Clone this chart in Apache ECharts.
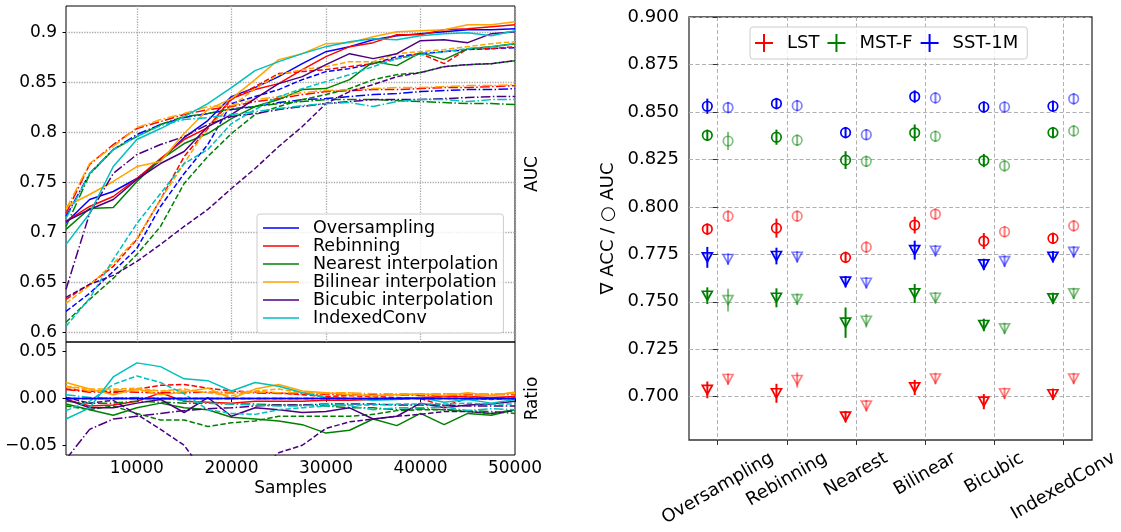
<!DOCTYPE html>
<html>
<head>
<meta charset="utf-8">
<script src="https://cdn.jsdelivr.net/npm/echarts@6/dist/echarts.min.js"></script>
<style>
html, body { margin: 0; padding: 0; background: #fff; }
#main { width: 1121px; height: 532px; }
</style>
</head>
<body>
<div id="main"></div>
<script>
// ---- left chart: AUC vs samples (solid / dashed / dash-dot per method) ----
const samples = [2500, 5000, 7500, 10000, 12500, 15000, 17500, 20000, 22500, 25000,
  27500, 30000, 32500, 35000, 37500, 40000, 42500, 45000, 47500, 50000];

const aucOverSolid = [0.710, 0.733, 0.741, 0.754, 0.772, 0.795, 0.812, 0.836, 0.845, 0.856, 0.869, 0.881, 0.886, 0.893, 0.897, 0.899, 0.901, 0.903, 0.903, 0.904];
const aucRebinSolid = [0.711, 0.726, 0.736, 0.754, 0.774, 0.793, 0.805, 0.834, 0.843, 0.849, 0.863, 0.876, 0.886, 0.890, 0.898, 0.898, 0.903, 0.904, 0.906, 0.908];
const aucNearSolid = [0.703, 0.724, 0.725, 0.751, 0.773, 0.789, 0.799, 0.814, 0.826, 0.833, 0.843, 0.844, 0.853, 0.871, 0.867, 0.880, 0.873, 0.884, 0.886, 0.889];
const aucBilSolid = [0.726, 0.738, 0.751, 0.766, 0.771, 0.799, 0.823, 0.834, 0.853, 0.873, 0.879, 0.889, 0.890, 0.896, 0.901, 0.902, 0.903, 0.908, 0.908, 0.911];
const aucBicSolid = [0.711, 0.723, 0.733, 0.753, 0.769, 0.781, 0.806, 0.818, 0.834, 0.849, 0.856, 0.868, 0.879, 0.874, 0.879, 0.892, 0.893, 0.890, 0.899, 0.901];
const aucIdxSolid = [0.688, 0.719, 0.766, 0.793, 0.804, 0.816, 0.829, 0.845, 0.862, 0.871, 0.879, 0.886, 0.891, 0.894, 0.893, 0.897, 0.899, 0.900, 0.897, 0.902];

const aucOverDashed = [0.621, 0.639, 0.661, 0.684, 0.726, 0.759, 0.788, 0.829, 0.836, 0.843, 0.853, 0.861, 0.864, 0.869, 0.876, 0.879, 0.881, 0.883, 0.884, 0.885];
const aucRebinDashed = [0.633, 0.648, 0.666, 0.693, 0.733, 0.776, 0.804, 0.833, 0.846, 0.859, 0.861, 0.863, 0.866, 0.869, 0.874, 0.879, 0.869, 0.884, 0.884, 0.886];
const aucNearDashed = [0.610, 0.633, 0.654, 0.678, 0.706, 0.749, 0.776, 0.799, 0.818, 0.826, 0.833, 0.838, 0.844, 0.853, 0.858, 0.860, 0.866, 0.868, 0.869, 0.872];
const aucBilDashed = [0.629, 0.647, 0.669, 0.694, 0.733, 0.769, 0.806, 0.826, 0.844, 0.858, 0.863, 0.866, 0.871, 0.871, 0.879, 0.881, 0.883, 0.886, 0.889, 0.891];
const aucBicDashed = [0.635, 0.648, 0.657, 0.671, 0.688, 0.706, 0.723, 0.744, 0.764, 0.786, 0.806, 0.829, 0.841, 0.848, 0.856, 0.860, 0.866, 0.868, 0.869, 0.872];
const aucIdxDashed = [0.606, 0.634, 0.673, 0.709, 0.739, 0.769, 0.783, 0.809, 0.823, 0.836, 0.844, 0.851, 0.858, 0.866, 0.874, 0.878, 0.881, 0.884, 0.886, 0.889];

const aucOverDashDot = [0.716, 0.759, 0.783, 0.798, 0.808, 0.815, 0.819, 0.823, 0.826, 0.830, 0.833, 0.834, 0.836, 0.838, 0.839, 0.841, 0.842, 0.843, 0.843, 0.844];
const aucRebinDashDot = [0.719, 0.768, 0.788, 0.804, 0.811, 0.818, 0.823, 0.826, 0.831, 0.834, 0.838, 0.841, 0.842, 0.843, 0.843, 0.844, 0.845, 0.845, 0.846, 0.847];
const aucNearDashDot = [0.706, 0.758, 0.783, 0.796, 0.808, 0.816, 0.819, 0.824, 0.826, 0.829, 0.831, 0.833, 0.833, 0.833, 0.832, 0.831, 0.830, 0.829, 0.829, 0.828];
const aucBilDashDot = [0.723, 0.769, 0.786, 0.805, 0.813, 0.819, 0.826, 0.827, 0.833, 0.836, 0.840, 0.842, 0.843, 0.844, 0.845, 0.845, 0.846, 0.847, 0.847, 0.848];
const aucBicDashDot = [0.643, 0.719, 0.759, 0.778, 0.788, 0.796, 0.808, 0.816, 0.819, 0.823, 0.826, 0.829, 0.831, 0.833, 0.833, 0.833, 0.834, 0.835, 0.836, 0.836];
const aucIdxDashDot = [0.714, 0.759, 0.783, 0.796, 0.807, 0.813, 0.815, 0.818, 0.821, 0.824, 0.827, 0.829, 0.830, 0.826, 0.831, 0.833, 0.833, 0.831, 0.833, 0.833];

// ratio panel
const ratioOverSolid = [0, 0, 0, 0, 0, 0, 0, 0, 0, 0, 0, 0, 0, 0, 0, 0, 0, 0, 0, 0];
const ratioOverDashed = [0, 0, 0, 0, 0, 0, 0, 0, 0, 0, 0, 0, 0, 0, 0, 0, 0, 0, 0, 0];
const ratioOverDashDot = [0, 0, 0, 0, 0, 0, 0, 0, 0, 0, 0, 0, 0, 0, 0, 0, 0, 0, 0, 0];
const ratioRebinSolid = [-0.001, -0.008, -0.007, -0.003, 0.006, -0.003, -0.004, -0.005, -0.003, -0.003, -0.003, -0.002, -0.002, -0.001, 0.000, 0.001, 0.002, 0.002, 0.001, 0.002];
const ratioRebinDashed = [0.010, 0.008, 0.006, 0.010, 0.014, 0.015, 0.011, 0.008, 0.007, 0.006, 0.004, 0.002, 0.003, 0.002, 0.001, 0.000, -0.008, 0.000, -0.001, 0.000];
const ratioRebinDashDot = [0.0095, 0.0067, 0.0077, 0.0067, 0.006, 0.006, 0.0067, 0.006, 0.006, 0.0053, 0.0049, 0.0042, 0.0042, 0.0039, 0.0039, 0.0032, 0.0035, 0.0039, 0.0042, 0.0042];
const ratioNearSolid = [-0.006, -0.012, -0.018, -0.010, -0.005, -0.010, -0.012, -0.020, -0.022, -0.024, -0.028, -0.037, -0.034, -0.022, -0.029, -0.016, -0.028, -0.016, -0.018, -0.012];
const ratioNearDashed = [-0.008, -0.012, -0.008, -0.016, -0.023, -0.023, -0.030, -0.026, -0.024, -0.019, -0.019, -0.019, -0.019, -0.017, -0.013, -0.012, -0.012, -0.014, -0.016, -0.012];
const ratioNearDashDot = [-0.003, -0.005, -0.005, -0.003, -0.004, -0.005, -0.005, -0.006, -0.006, -0.007, -0.007, -0.008, -0.010, -0.010, -0.012, -0.011, -0.012, -0.013, -0.014, -0.016];
const ratioBilSolid = [0.017, 0.010, 0.004, 0.010, 0.004, 0.007, 0.011, 0.000, 0.010, 0.015, 0.008, 0.006, 0.004, 0.003, 0.004, 0.005, 0.003, 0.006, 0.003, 0.007];
const ratioBilDashed = [0.013, 0.010, 0.010, 0.011, 0.008, 0.010, 0.006, 0.003, 0.008, 0.010, 0.006, 0.005, 0.006, 0.003, 0.004, 0.004, 0.005, 0.003, 0.004, 0.006];
const ratioBilDashDot = [0.013, 0.008, 0.009, 0.009, 0.008, 0.008, 0.007, 0.007, 0.007, 0.006, 0.006, 0.006, 0.006, 0.005, 0.005, 0.005, 0.005, 0.005, 0.005, 0.005];
const ratioBicSolid = [-0.001, -0.010, -0.010, -0.005, -0.001, -0.015, 0.001, -0.019, -0.010, -0.012, -0.015, -0.014, -0.010, -0.022, -0.019, -0.005, -0.010, -0.007, -0.006, -0.003];
const ratioBicDashed = [0.001, -0.005, -0.002, -0.017, -0.033, -0.050, -0.085, -0.100, -0.080, -0.058, -0.050, -0.032, -0.025, -0.022, -0.019, -0.017, -0.014, -0.014, -0.016, -0.013];
const ratioBicDashDot = [-0.065, -0.033, -0.022, -0.019, -0.016, -0.013, -0.011, -0.010, -0.008, -0.007, -0.007, -0.006, -0.006, -0.006, -0.007, -0.007, -0.007, -0.008, -0.008, -0.008];
const ratioIdxSolid = [-0.022, -0.010, 0.023, 0.038, 0.034, 0.021, 0.019, 0.008, 0.017, 0.013, 0.006, 0.001, 0.000, -0.002, -0.001, 0.001, -0.004, -0.001, -0.005, -0.001];
const ratioIdxDashed = [-0.013, -0.003, 0.015, 0.024, 0.017, 0.005, -0.012, -0.016, -0.017, -0.012, -0.010, -0.008, -0.007, -0.007, -0.006, -0.006, -0.006, -0.005, -0.006, -0.006];
const ratioIdxDashDot = [0.004, 0.001, 0.000, 0.001, 0.000, -0.002, -0.005, -0.006, -0.007, -0.008, -0.008, -0.006, -0.008, -0.012, -0.010, -0.010, -0.009, -0.013, -0.011, -0.012];

const aucTicks = [0.6, 0.65, 0.7, 0.75, 0.8, 0.85, 0.9];
const ratioTicks = [-0.05, 0, 0.05];
const sampleTicks = [10000, 20000, 30000, 40000, 50000];

// ---- right chart: ACC (triangles) / AUC (circles) per method ----
const methods = ['Oversampling', 'Rebinning', 'Nearest', 'Bilinear', 'Bicubic', 'IndexedConv'];
const scoreTicks = [0.7, 0.725, 0.75, 0.775, 0.8, 0.825, 0.85, 0.875, 0.9];

// first (solid colour) run
const lstAuc1 = [0.7883, 0.7888, 0.7734, 0.7904, 0.782, 0.7834];
const lstAucErr1 = [0.003, 0.005, 0.003, 0.0044, 0.0042, 0.003];
const lstAcc1 = [0.7036, 0.7018, 0.6895, 0.7049, 0.6974, 0.7013];
const lstAccErr1 = [0.0044, 0.005, 0.003, 0.004, 0.004, 0.003];
const mstAuc1 = [0.8377, 0.8367, 0.8246, 0.839, 0.8244, 0.8391];
const mstAucErr1 = [0.003, 0.004, 0.0047, 0.0044, 0.0035, 0.003];
const mstAcc1 = [0.7532, 0.7521, 0.739, 0.7544, 0.7378, 0.7518];
const mstAccErr1 = [0.0044, 0.005, 0.008, 0.005, 0.0033, 0.003];
const sstAuc1 = [0.853, 0.8544, 0.8391, 0.8581, 0.8526, 0.853];
const sstAucErr1 = [0.004, 0.003, 0.003, 0.0033, 0.003, 0.003];
const sstAcc1 = [0.7734, 0.7741, 0.7606, 0.7772, 0.7697, 0.7737];
const sstAccErr1 = [0.0055, 0.0044, 0.003, 0.005, 0.003, 0.003];

// second (faded) run
const lstAuc2 = [0.7951, 0.7951, 0.7788, 0.7962, 0.7869, 0.79];
const lstAucErr2 = [0.003, 0.003, 0.003, 0.003, 0.003, 0.003];
const lstAcc2 = [0.7093, 0.7088, 0.6953, 0.7096, 0.7018, 0.7096];
const lstAccErr2 = [0.003, 0.004, 0.003, 0.003, 0.003, 0.003];
const mstAuc2 = [0.8347, 0.8351, 0.824, 0.8372, 0.8216, 0.84];
const mstAucErr2 = [0.0048, 0.003, 0.003, 0.003, 0.003, 0.003];
const mstAcc2 = [0.7509, 0.7514, 0.74, 0.7521, 0.736, 0.7544];
const mstAccErr2 = [0.006, 0.003, 0.0035, 0.003, 0.003, 0.003];
const sstAuc2 = [0.8523, 0.8533, 0.838, 0.8574, 0.8526, 0.8569];
const sstAucErr2 = [0.003, 0.003, 0.003, 0.003, 0.003, 0.003];
const sstAcc2 = [0.7725, 0.7737, 0.76, 0.7769, 0.7714, 0.7763];
const sstAccErr2 = [0.003, 0.003, 0.003, 0.003, 0.003, 0.003];

const FONT = 'DejaVu Sans';
const DASHED = [5.5, 2.4];
const DASHDOT = [9.6, 2.4, 1.5, 2.4];

const leftSets = [
  { name: 'Oversampling', color: '#0000ff', auc: [aucOverSolid, aucOverDashed, aucOverDashDot], ratio: [ratioOverSolid, ratioOverDashed, ratioOverDashDot] },
  { name: 'Rebinning', color: '#ff0000', auc: [aucRebinSolid, aucRebinDashed, aucRebinDashDot], ratio: [ratioRebinSolid, ratioRebinDashed, ratioRebinDashDot] },
  { name: 'Nearest interpolation', color: '#008000', auc: [aucNearSolid, aucNearDashed, aucNearDashDot], ratio: [ratioNearSolid, ratioNearDashed, ratioNearDashDot] },
  { name: 'Bilinear interpolation', color: '#ffa500', auc: [aucBilSolid, aucBilDashed, aucBilDashDot], ratio: [ratioBilSolid, ratioBilDashed, ratioBilDashDot] },
  { name: 'Bicubic interpolation', color: '#4b0082', auc: [aucBicSolid, aucBicDashed, aucBicDashDot], ratio: [ratioBicSolid, ratioBicDashed, ratioBicDashDot] },
  { name: 'IndexedConv', color: '#00bfbf', auc: [aucIdxSolid, aucIdxDashed, aucIdxDashDot], ratio: [ratioIdxSolid, ratioIdxDashed, ratioIdxDashDot] }
];
const dashTypes = ['solid', DASHED, DASHDOT];

function lineSeries(name, color, values, dash, idx, z) {
  return {
    type: 'line', name: name, xAxisIndex: idx, yAxisIndex: idx,
    data: samples.map((s, i) => [s, values[i]]),
    symbol: 'none', showSymbol: false, clip: true, z: z,
    lineStyle: { color: color, width: 1.5, type: dash },
    itemStyle: { color: color }
  };
}

const series = [];
leftSets.forEach(m => {
  m.auc.forEach((arr, k) => {
    series.push(lineSeries(k === 0 ? m.name : m.name + ' #' + k, m.color, arr, dashTypes[k], 0, 2));
  });
  m.ratio.forEach((arr, k) => {
    series.push(lineSeries(m.name + ' ratio #' + k, m.color, arr, dashTypes[k], 1, m.name === 'Oversampling' ? 3 : 2));
  });
});

const rightSets = [
  { name: 'LST', color: '#ff0000', runs: [[lstAuc1, lstAucErr1, lstAcc1, lstAccErr1], [lstAuc2, lstAucErr2, lstAcc2, lstAccErr2]] },
  { name: 'MST-F', color: '#008000', runs: [[mstAuc1, mstAucErr1, mstAcc1, mstAccErr1], [mstAuc2, mstAucErr2, mstAcc2, mstAccErr2]] },
  { name: 'SST-1M', color: '#0000ff', runs: [[sstAuc1, sstAucErr1, sstAcc1, sstAccErr1], [sstAuc2, sstAucErr2, sstAcc2, sstAccErr2]] }
];
const runOffset = [-0.15, 0.15];
const runOpacity = [1, 0.5];

function markerSeries(name, color, opacity, values, offset, tri) {
  return {
    type: 'scatter', name: name, xAxisIndex: 2, yAxisIndex: 4, z: 3,
    data: values.map((v, i) => [i + offset, v]),
    symbol: tri ? 'triangle' : 'circle', symbolRotate: tri ? 180 : 0,
    symbolSize: tri ? [10, 9] : 9.5,
    itemStyle: { color: 'rgba(0,0,0,0)', borderColor: color, borderWidth: 1.7, opacity: opacity }
  };
}
function errSeries(color, opacity, values, errs, offset) {
  return {
    type: 'custom', xAxisIndex: 2, yAxisIndex: 4, z: 4,
    encode: { x: 0, y: 1 },
    data: values.map((v, i) => [i + offset, v, errs[i]]),
    renderItem: function (params, api) {
      const x = api.value(0), y = api.value(1), e = api.value(2);
      const a = api.coord([x, y - e]), b = api.coord([x, y + e]);
      return { type: 'line', shape: { x1: a[0], y1: a[1], x2: b[0], y2: b[1] },
        style: { stroke: color, lineWidth: 2, opacity: opacity } };
    }
  };
}
rightSets.forEach(d => {
  d.runs.forEach((r, k) => {
    const off = runOffset[k], op = runOpacity[k];
    series.push(markerSeries(k === 0 ? d.name : d.name + ' #2', d.color, op, r[0], off, false));
    series.push(markerSeries(d.name + ' acc #' + k, d.color, op, r[2], off, true));
    series.push(errSeries(d.color, op, r[0], r[1], off));
    series.push(errSeries(d.color, op, r[2], r[3], off));
  });
});

// rotated category labels: centre them like matplotlib (bbox top under the tick)
const ctx = document.createElement('canvas').getContext('2d');
ctx.font = '18px "' + FONT + '"';
const richLabels = {};
methods.forEach((m, i) => {
  const d = ctx.measureText(m).width / 4;
  richLabels['c' + i] = { fontFamily: FONT, fontSize: 18, color: '#000', padding: [1.732 * d, d, 0, 0] };
});

const plusIcon = 'path://M8,0h2v8h8v2h-8v8h-2v-8h-8v-2h8z';
const labelStyle = { fontFamily: FONT, color: '#000' };

const option = {
  animation: false,
  backgroundColor: '#fff',
  textStyle: { fontFamily: FONT },
  grid: [
    { left: 66, top: 6, width: 449, height: 336, show: true, borderColor: '#000', borderWidth: 1, backgroundColor: 'transparent', outerBoundsMode: 'none' },
    { left: 66, top: 342, width: 449, height: 113, show: true, borderColor: '#000', borderWidth: 1, backgroundColor: 'transparent', outerBoundsMode: 'none' },
    { left: 689, top: 17, width: 403, height: 423, show: true, borderColor: '#333', borderWidth: 1.3, backgroundColor: 'transparent', outerBoundsMode: 'none' }
  ],
  xAxis: [
    { type: 'value', gridIndex: 0, min: 2500, max: 50000,
      axisLine: { show: false }, axisLabel: { show: false, customValues: sampleTicks },
      axisTick: { show: false, customValues: sampleTicks },
      splitLine: { show: true, lineStyle: { color: '#a8a8a8', width: 1.3, type: [1.3, 1.3] } } },
    { type: 'value', gridIndex: 1, min: 2500, max: 50000,
      name: 'Samples', nameLocation: 'middle', nameGap: 25,
      nameTextStyle: Object.assign({ fontSize: 17 }, labelStyle),
      axisLine: { show: false },
      axisTick: { show: true, length: 3.5, inside: false, customValues: sampleTicks, lineStyle: { color: '#000' } },
      axisLabel: Object.assign({ fontSize: 17, margin: 5, customValues: sampleTicks, formatter: v => String(v) }, labelStyle),
      splitLine: { show: false } },
    { type: 'value', gridIndex: 2, min: -0.415, max: 5.415,
      axisLine: { show: false },
      axisTick: { show: true, length: 5, customValues: [0, 1, 2, 3, 4, 5], lineStyle: { color: '#333' } },
      axisLabel: { customValues: [0, 1, 2, 3, 4, 5], rotate: 30, align: 'center', verticalAlign: 'middle', margin: 17,
        fontFamily: FONT, fontSize: 18, color: '#000',
        formatter: v => { const i = Math.round(v); return '{c' + i + '|' + methods[i] + '}'; },
        rich: richLabels },
      splitLine: { show: true, lineStyle: { color: '#b0b0b0', width: 1, type: [4, 2.5] } } }
  ],
  yAxis: [
    { type: 'value', gridIndex: 0, min: 0.5903, max: 0.9267,
      axisLine: { show: false },
      axisTick: { show: true, length: 3.5, customValues: aucTicks, lineStyle: { color: '#000' } },
      axisLabel: Object.assign({ fontSize: 17, margin: 9, customValues: aucTicks, formatter: v => String(parseFloat(v.toFixed(2))) }, labelStyle),
      splitLine: { show: true, lineStyle: { color: '#a8a8a8', width: 1.3, type: [1.3, 1.3] } } },
    { type: 'value', gridIndex: 1, min: -0.0604, max: 0.0603,
      axisLine: { show: false },
      axisTick: { show: true, length: 3.5, customValues: ratioTicks, lineStyle: { color: '#000' } },
      axisLabel: Object.assign({ fontSize: 17, margin: 9, customValues: ratioTicks,
        formatter: v => (v < -1e-9 ? '\u2212' : '') + Math.abs(v).toFixed(2) }, labelStyle),
      splitLine: { show: false } },
    { type: 'value', gridIndex: 0, position: 'right', min: 0.5903, max: 0.9267,
      name: 'AUC', nameLocation: 'middle', nameGap: 9,
      nameTextStyle: Object.assign({ fontSize: 17 }, labelStyle),
      axisLine: { show: false }, axisTick: { show: false }, axisLabel: { show: false }, splitLine: { show: false } },
    { type: 'value', gridIndex: 1, position: 'right', min: -0.0604, max: 0.0603,
      name: 'Ratio', nameLocation: 'middle', nameGap: 9,
      nameTextStyle: Object.assign({ fontSize: 17 }, labelStyle),
      axisLine: { show: false }, axisTick: { show: false }, axisLabel: { show: false }, splitLine: { show: false } },
    { type: 'value', gridIndex: 2, min: 0.6772, max: 0.9,
      name: '\u2207 ACC / \u25CB AUC', nameLocation: 'middle', nameGap: 72,
      nameTextStyle: Object.assign({ fontSize: 18 }, labelStyle),
      axisLine: { show: false },
      axisTick: { show: true, length: 5, customValues: scoreTicks, lineStyle: { color: '#333' } },
      axisLabel: Object.assign({ fontSize: 18, margin: 10, customValues: scoreTicks, formatter: v => v.toFixed(3) }, labelStyle),
      splitLine: { show: true, lineStyle: { color: '#b0b0b0', width: 1, type: [4, 2.5] } } }
  ],
  legend: [
    { orient: 'vertical', left: 257, top: 214, itemWidth: 36, itemHeight: 1.6, itemGap: 0,
      padding: [5, 5, 6, 6], backgroundColor: 'rgba(255,255,255,0.8)', borderColor: '#cccccc', borderWidth: 1, borderRadius: 3,
      textStyle: { fontFamily: FONT, fontSize: 17.5, color: '#000', lineHeight: 17.7, padding: [0, 0, 0, 9] },
      selectedMode: false,
      data: leftSets.map(m => ({ name: m.name, icon: 'rect', itemStyle: { color: m.color, borderWidth: 0 } })) },
    { orient: 'horizontal', left: 750, top: 27, itemWidth: 18, itemHeight: 18, itemGap: 8,
      padding: [7, 9, 7, 5], backgroundColor: 'rgba(255,255,255,0.8)', borderColor: '#cccccc', borderWidth: 1, borderRadius: 3,
      textStyle: { fontFamily: FONT, fontSize: 18, color: '#000', padding: [0, 0, 0, 9] },
      selectedMode: false,
      data: rightSets.map(d => ({ name: d.name, icon: plusIcon, itemStyle: { color: d.color, borderWidth: 0, opacity: 1 } })) }
  ],
  series: series
};

const chart = echarts.init(document.getElementById('main'), null, { renderer: 'canvas' });
chart.setOption(option);
</script>
</body>
</html>
